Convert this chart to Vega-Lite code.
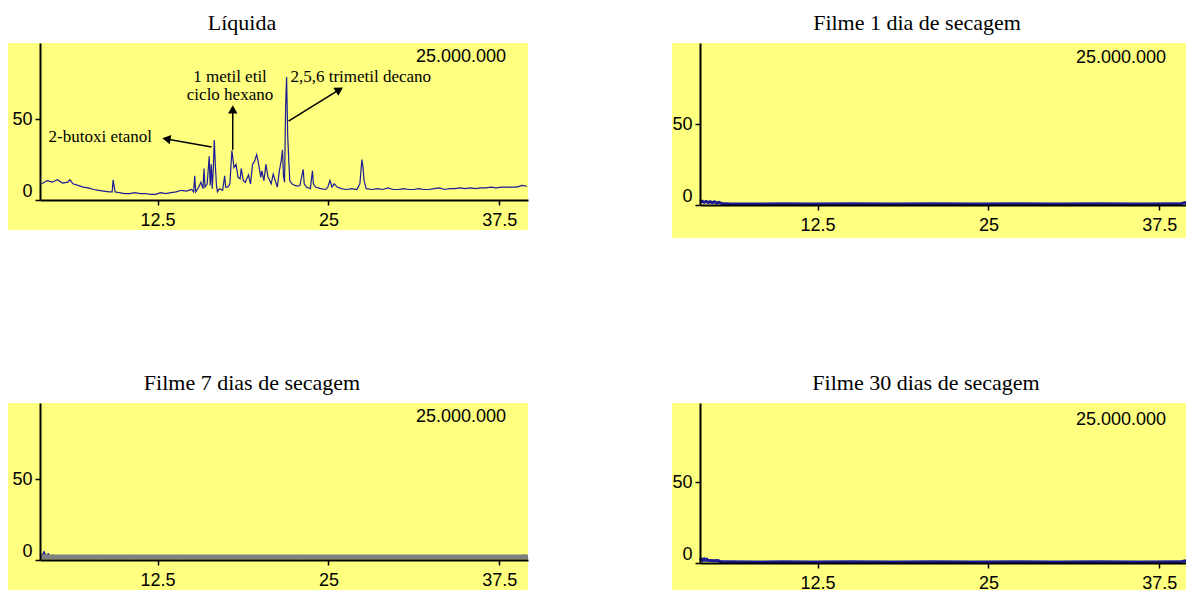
{
  "$schema": "https://vega.github.io/schema/vega-lite/v6.json",
  "background": "white",
  "padding": {"left": 8, "top": 12, "right": 0, "bottom": 0},
  "columns": 2,
  "spacing": {"row": 133, "column": 133},
  "config": {
    "view": {"stroke": null},
    "font": "Liberation Sans",
    "title": {"font": "Liberation Serif", "fontSize": 22, "fontWeight": "normal", "color": "black", "anchor": "middle", "frame": "group", "baseline": "alphabetic", "offset": 8},
    "axis": {"grid": false, "domainColor": "black", "domainWidth": 2, "tickColor": "black", "tickWidth": 1.5, "tickSize": 5, "labelFont": "Liberation Sans", "labelFontSize": 18, "labelColor": "black", "labelPadding": 3, "labelOverlap": false, "zindex": 1},
    "axisX": {"labelPadding": 6}
  },
  "datasets": {
    "one": [{}],
    "liquida": [
      {"t":4.04,"a":10},{"t":4.42,"a":12},{"t":4.80,"a":11},{"t":5.17,"a":12.5},{"t":5.55,"a":10.5},{"t":5.93,"a":11},{"t":6.08,"a":12.5},{"t":6.31,"a":10},{"t":6.68,"a":9},{"t":7.06,"a":8},{"t":7.44,"a":7.5},{"t":7.82,"a":6.5},{"t":8.19,"a":6},{"t":8.57,"a":5.5},{"t":8.95,"a":5},{"t":9.18,"a":5},{"t":9.25,"a":12.5},{"t":9.33,"a":8},{"t":9.40,"a":5},{"t":9.71,"a":4.5},{"t":10.08,"a":4},{"t":10.46,"a":4},{"t":10.84,"a":4.5},{"t":11.22,"a":4},{"t":11.59,"a":4},{"t":11.97,"a":3.5},{"t":12.35,"a":3.5},{"t":12.73,"a":4.5},{"t":13.10,"a":4},{"t":13.48,"a":4.5},{"t":13.86,"a":5},{"t":14.24,"a":6},{"t":14.61,"a":5.5},{"t":14.99,"a":6.5},{"t":15.14,"a":5},{"t":15.22,"a":15},{"t":15.29,"a":5},{"t":15.52,"a":8},{"t":15.67,"a":11},{"t":15.82,"a":7},{"t":15.90,"a":19.5},{"t":15.97,"a":8},{"t":16.13,"a":10},{"t":16.28,"a":27},{"t":16.35,"a":9},{"t":16.43,"a":22},{"t":16.50,"a":7},{"t":16.58,"a":20},{"t":16.65,"a":37},{"t":16.73,"a":21},{"t":16.81,"a":9},{"t":16.88,"a":5},{"t":17.03,"a":7},{"t":17.26,"a":6},{"t":17.41,"a":15},{"t":17.48,"a":8},{"t":17.64,"a":8},{"t":17.79,"a":10},{"t":17.94,"a":30.5},{"t":18.09,"a":20},{"t":18.24,"a":22},{"t":18.39,"a":14},{"t":18.54,"a":13},{"t":18.62,"a":19.5},{"t":18.77,"a":12},{"t":18.92,"a":11},{"t":19.15,"a":15.5},{"t":19.30,"a":10},{"t":19.45,"a":22},{"t":19.60,"a":24},{"t":19.75,"a":28},{"t":19.90,"a":22},{"t":20.05,"a":14},{"t":20.13,"a":18},{"t":20.28,"a":12},{"t":20.43,"a":22},{"t":20.58,"a":14},{"t":20.66,"a":13},{"t":20.81,"a":10},{"t":20.96,"a":16},{"t":21.11,"a":12},{"t":21.26,"a":8},{"t":21.41,"a":18},{"t":21.56,"a":25},{"t":21.64,"a":31},{"t":21.71,"a":15},{"t":21.79,"a":11},{"t":21.87,"a":58},{"t":21.94,"a":76},{"t":22.02,"a":40},{"t":22.09,"a":26},{"t":22.17,"a":12},{"t":22.32,"a":10},{"t":22.55,"a":9},{"t":22.77,"a":8.5},{"t":22.92,"a":9},{"t":23.15,"a":19},{"t":23.23,"a":10},{"t":23.38,"a":8},{"t":23.68,"a":7},{"t":23.83,"a":18},{"t":23.90,"a":10},{"t":24.06,"a":8},{"t":24.43,"a":7},{"t":24.81,"a":6.5},{"t":24.96,"a":8},{"t":25.11,"a":12},{"t":25.26,"a":8},{"t":25.42,"a":10},{"t":25.64,"a":8},{"t":25.94,"a":7},{"t":26.32,"a":6.5},{"t":26.70,"a":7},{"t":27.08,"a":6.5},{"t":27.30,"a":10},{"t":27.45,"a":25},{"t":27.53,"a":20},{"t":27.61,"a":12},{"t":27.76,"a":7},{"t":28.21,"a":6.5},{"t":28.60,"a":7},{"t":28.97,"a":6.5},{"t":29.35,"a":7.5},{"t":29.72,"a":6.5},{"t":30.10,"a":6.5},{"t":30.48,"a":7},{"t":30.86,"a":6.5},{"t":31.23,"a":6.5},{"t":31.61,"a":7},{"t":31.99,"a":6.5},{"t":32.36,"a":6.5},{"t":32.74,"a":7},{"t":33.12,"a":7.5},{"t":33.50,"a":6.5},{"t":33.87,"a":7},{"t":34.25,"a":7},{"t":34.63,"a":7.5},{"t":35.01,"a":7},{"t":35.38,"a":7.5},{"t":35.76,"a":7},{"t":36.14,"a":7.5},{"t":36.52,"a":7.5},{"t":36.89,"a":8},{"t":37.27,"a":7.5},{"t":37.65,"a":8},{"t":38.03,"a":8},{"t":38.40,"a":8},{"t":38.78,"a":8},{"t":39.16,"a":9},{"t":39.54,"a":8.5}
    ],
    "d1": [
      {"t":3.9,"a":1.8},{"t":4.05,"a":2.3},{"t":4.2,"a":1.6},{"t":4.35,"a":2.2},{"t":4.5,"a":1.5},{"t":4.65,"a":2.1},{"t":4.8,"a":1.4},{"t":4.95,"a":2.0},{"t":5.1,"a":1.2},{"t":5.3,"a":1.7},{"t":5.5,"a":0.9},{"t":6.0,"a":0.7},{"t":8,"a":0.6},{"t":10,"a":0.7},{"t":12,"a":0.6},{"t":15,"a":0.7},{"t":18,"a":0.6},{"t":21,"a":0.7},{"t":24,"a":0.6},{"t":27,"a":0.7},{"t":30,"a":0.6},{"t":33,"a":0.7},{"t":36,"a":0.6},{"t":39,"a":0.7},{"t":39.4,"a":1.5},{"t":39.6,"a":0.7}
    ],
    "d7": [
      {"s":"tic","t":3.9,"a":4},{"s":"tic","t":4.05,"a":2.5},{"s":"tic","t":4.2,"a":5},{"s":"tic","t":4.35,"a":2},{"s":"tic","t":4.5,"a":3.8},{"s":"tic","t":4.65,"a":1.8},{"s":"tic","t":4.8,"a":3},{"s":"tic","t":5.0,"a":1.5},{"s":"tic","t":5.3,"a":1.5},{"s":"tic","t":8.0,"a":1.4},{"s":"tic","t":8.1,"a":2.6},{"s":"tic","t":8.2,"a":1.4},{"s":"tic","t":10.5,"a":1.4},{"s":"tic","t":10.6,"a":2.6},{"s":"tic","t":10.7,"a":1.4},{"s":"tic","t":12.0,"a":1.4},{"s":"tic","t":12.1,"a":2.5},{"s":"tic","t":12.2,"a":1.4},{"s":"tic","t":14.3,"a":1.4},{"s":"tic","t":14.4,"a":2.6},{"s":"tic","t":14.5,"a":1.4},{"s":"tic","t":16.4,"a":1.4},{"s":"tic","t":16.5,"a":2.6},{"s":"tic","t":16.8,"a":2.6},{"s":"tic","t":16.9,"a":1.4},{"s":"tic","t":19.0,"a":1.4},{"s":"tic","t":19.1,"a":2.6},{"s":"tic","t":19.6,"a":2.6},{"s":"tic","t":19.7,"a":1.4},{"s":"tic","t":21.5,"a":1.4},{"s":"tic","t":21.6,"a":2.5},{"s":"tic","t":21.7,"a":1.4},{"s":"tic","t":23.0,"a":1.4},{"s":"tic","t":23.1,"a":2.6},{"s":"tic","t":23.2,"a":1.4},{"s":"tic","t":28.3,"a":1.4},{"s":"tic","t":28.4,"a":2.5},{"s":"tic","t":28.5,"a":1.4},{"s":"tic","t":39.2,"a":1.4},{"s":"tic","t":39.3,"a":3},{"s":"tic","t":39.45,"a":2},{"s":"tic","t":39.6,"a":1.4},
      {"s":"base","t":3.9,"a":1.8},{"s":"base","t":10,"a":1.8},{"s":"base","t":20,"a":1.8},{"s":"base","t":30,"a":1.8},{"s":"base","t":39.6,"a":1.8}
    ],
    "d30": [
      {"t":3.9,"a":1.5},{"t":4.0,"a":2.4},{"t":4.1,"a":1.6},{"t":4.2,"a":2.5},{"t":4.3,"a":1.7},{"t":4.4,"a":2.3},{"t":4.5,"a":1.5},{"t":4.7,"a":1.6},{"t":4.9,"a":1.4},{"t":5.2,"a":1.5},{"t":5.4,"a":0.8},{"t":6.0,"a":0.7},{"t":8,"a":0.6},{"t":10,"a":0.7},{"t":12,"a":0.6},{"t":15,"a":0.7},{"t":18,"a":0.6},{"t":21,"a":0.7},{"t":24,"a":0.6},{"t":27,"a":0.7},{"t":30,"a":0.6},{"t":33,"a":0.7},{"t":36,"a":0.6},{"t":39,"a":0.7},{"t":39.4,"a":1.4},{"t":39.6,"a":0.7}
    ]
  },
  "concat": [
    {
      "title": {"text": "Líquida", "dx": -42},
      "width": 488,
      "height": 157,
      "layer": [
        {
          "data": {"name": "one"},
          "mark": {"type": "rect", "color": "#FFFF80"},
          "encoding": {
            "x": {"datum": 1.56, "type": "quantitative", "scale": {"domain": [3.9, 39.6], "nice": false, "zero": false}, "axis": {"title": null, "zindex": 1, "values": [12.5, 25, 37.5], "labelExpr": "'' + datum.value"}},
            "x2": {"datum": 39.6},
            "y": {"datum": -18.5, "type": "quantitative", "scale": {"domain": [0, 97], "nice": false, "zero": false}, "axis": {"title": null, "zindex": 1, "values": [0, 50], "labelBaseline": {"condition": {"test": "datum.value === 0", "value": "bottom"}, "value": "middle"}}},
            "y2": {"datum": 97}
          }
        },
        {
          "data": {"name": "liquida"},
          "mark": {"type": "line", "color": "#1c1c96", "strokeWidth": 1.2},
          "encoding": {
            "x": {"field": "t", "type": "quantitative", "scale": {"domain": [3.9, 39.6], "nice": false, "zero": false}},
            "y": {"field": "a", "type": "quantitative", "scale": {"domain": [0, 97], "nice": false, "zero": false}}
          }
        },
        {
          "data": {"name": "one"},
          "mark": {"type": "text", "font": "Liberation Sans", "fontSize": 18, "align": "right", "baseline": "middle", "color": "black"},
          "encoding": {"x": {"datum": 38.0, "type": "quantitative"}, "y": {"datum": 88.5, "type": "quantitative"}, "text": {"value": "25.000.000"}}
        },
        {
          "data": {"name": "one"},
          "mark": {"type": "text", "font": "Liberation Serif", "fontSize": 17, "align": "left", "baseline": "middle", "color": "black"},
          "encoding": {"x": {"datum": 22.22, "type": "quantitative"}, "y": {"datum": 75.9, "type": "quantitative"}, "text": {"value": "2,5,6 trimetil decano"}}
        },
        {
          "data": {"name": "one"},
          "mark": {"type": "text", "font": "Liberation Serif", "fontSize": 17, "align": "center", "baseline": "middle", "color": "black"},
          "encoding": {"x": {"datum": 17.8, "type": "quantitative"}, "y": {"datum": 75.9, "type": "quantitative"}, "text": {"value": "1 metil etil"}}
        },
        {
          "data": {"name": "one"},
          "mark": {"type": "text", "font": "Liberation Serif", "fontSize": 17, "align": "center", "baseline": "middle", "color": "black"},
          "encoding": {"x": {"datum": 17.8, "type": "quantitative"}, "y": {"datum": 64.8, "type": "quantitative"}, "text": {"value": "ciclo hexano"}}
        },
        {
          "data": {"name": "one"},
          "mark": {"type": "text", "font": "Liberation Serif", "fontSize": 17, "align": "left", "baseline": "middle", "color": "black"},
          "encoding": {"x": {"datum": 4.53, "type": "quantitative"}, "y": {"datum": 38.9, "type": "quantitative"}, "text": {"value": "2-butoxi etanol"}}
        },
        {
          "data": {"name": "one"},
          "mark": {"type": "rule", "color": "black", "strokeWidth": 1.5},
          "encoding": {"x": {"datum": 18.0, "type": "quantitative"}, "y": {"datum": 31, "type": "quantitative"}, "x2": {"datum": 18.0}, "y2": {"datum": 56}}
        },
        {
          "data": {"name": "one"},
          "mark": {"type": "rule", "color": "black", "strokeWidth": 1.5},
          "encoding": {"x": {"datum": 22.08, "type": "quantitative"}, "y": {"datum": 48.8, "type": "quantitative"}, "x2": {"datum": 25.8}, "y2": {"datum": 68.2}}
        },
        {
          "data": {"name": "one"},
          "mark": {"type": "rule", "color": "black", "strokeWidth": 1.5},
          "encoding": {"x": {"datum": 16.45, "type": "quantitative"}, "y": {"datum": 32.7, "type": "quantitative"}, "x2": {"datum": 13.15}, "y2": {"datum": 37.7}}
        },
        {
          "data": {"name": "one"},
          "mark": {"type": "point", "shape": "triangle-up", "filled": true, "color": "black", "opacity": 1, "size": 90, "angle": 0},
          "encoding": {"x": {"datum": 18.0, "type": "quantitative"}, "y": {"datum": 56, "type": "quantitative"}}
        },
        {
          "data": {"name": "one"},
          "mark": {"type": "point", "shape": "triangle-up", "filled": true, "color": "black", "opacity": 1, "size": 90, "angle": 58},
          "encoding": {"x": {"datum": 25.8, "type": "quantitative"}, "y": {"datum": 68.2, "type": "quantitative"}}
        },
        {
          "data": {"name": "one"},
          "mark": {"type": "point", "shape": "triangle-up", "filled": true, "color": "black", "opacity": 1, "size": 90, "angle": 280},
          "encoding": {"x": {"datum": 13.15, "type": "quantitative"}, "y": {"datum": 37.7, "type": "quantitative"}}
        }
      ]
    },
    {
      "title": {"text": "Filme 1 dia de secagem", "dx": -27},
      "width": 488,
      "height": 162,
      "layer": [
        {
          "data": {"name": "one"},
          "mark": {"type": "rect", "color": "#FFFF80"},
          "encoding": {
            "x": {"datum": 1.85, "type": "quantitative", "scale": {"domain": [3.9, 39.6], "nice": false, "zero": false}, "axis": {"title": null, "zindex": 1, "values": [12.5, 25, 37.5], "labelExpr": "'' + datum.value"}},
            "x2": {"datum": 39.6},
            "y": {"datum": -20.4, "type": "quantitative", "scale": {"domain": [0, 100], "nice": false, "zero": false}, "axis": {"title": null, "zindex": 1, "values": [0, 50], "labelBaseline": {"condition": {"test": "datum.value === 0", "value": "bottom"}, "value": "middle"}}},
            "y2": {"datum": 100}
          }
        },
        {
          "data": {"name": "d1"},
          "mark": {"type": "line", "color": "#1c1c96", "strokeWidth": 3},
          "encoding": {
            "x": {"field": "t", "type": "quantitative", "scale": {"domain": [3.9, 39.6], "nice": false, "zero": false}},
            "y": {"field": "a", "type": "quantitative", "scale": {"domain": [0, 100], "nice": false, "zero": false}}
          }
        },
        {
          "data": {"name": "one"},
          "mark": {"type": "text", "font": "Liberation Sans", "fontSize": 18, "align": "right", "baseline": "middle", "color": "black"},
          "encoding": {"x": {"datum": 38.0, "type": "quantitative"}, "y": {"datum": 90.5, "type": "quantitative"}, "text": {"value": "25.000.000"}}
        }
      ]
    },
    {
      "title": {"text": "Filme 7 dias de secagem", "dx": -32},
      "width": 488,
      "height": 157,
      "layer": [
        {
          "data": {"name": "one"},
          "mark": {"type": "rect", "color": "#FFFF80"},
          "encoding": {
            "x": {"datum": 1.56, "type": "quantitative", "scale": {"domain": [3.9, 39.6], "nice": false, "zero": false}, "axis": {"title": null, "zindex": 1, "values": [12.5, 25, 37.5], "labelExpr": "'' + datum.value"}},
            "x2": {"datum": 39.6},
            "y": {"datum": -18.5, "type": "quantitative", "scale": {"domain": [0, 97], "nice": false, "zero": false}, "axis": {"title": null, "zindex": 1, "values": [0, 50], "labelBaseline": {"condition": {"test": "datum.value === 0", "value": "bottom"}, "value": "middle"}}},
            "y2": {"datum": 97}
          }
        },
        {
          "data": {"name": "d7"},
          "transform": [{"filter": "datum.s === 'tic'"}],
          "mark": {"type": "line", "color": "#1c1c96", "strokeWidth": 1.5},
          "encoding": {
            "x": {"field": "t", "type": "quantitative", "scale": {"domain": [3.9, 39.6], "nice": false, "zero": false}},
            "y": {"field": "a", "type": "quantitative", "scale": {"domain": [0, 97], "nice": false, "zero": false}}
          }
        },
        {
          "data": {"name": "d7"},
          "transform": [{"filter": "datum.s === 'base'"}],
          "mark": {"type": "line", "color": "#808080", "strokeWidth": 5},
          "encoding": {
            "x": {"field": "t", "type": "quantitative"},
            "y": {"field": "a", "type": "quantitative"}
          }
        },
        {
          "data": {"name": "one"},
          "mark": {"type": "text", "font": "Liberation Sans", "fontSize": 18, "align": "right", "baseline": "middle", "color": "black"},
          "encoding": {"x": {"datum": 38.0, "type": "quantitative"}, "y": {"datum": 88.5, "type": "quantitative"}, "text": {"value": "25.000.000"}}
        }
      ]
    },
    {
      "title": {"text": "Filme 30 dias de secagem", "dx": -18},
      "width": 488,
      "height": 160,
      "layer": [
        {
          "data": {"name": "one"},
          "mark": {"type": "rect", "color": "#FFFF80"},
          "encoding": {
            "x": {"datum": 1.85, "type": "quantitative", "scale": {"domain": [3.9, 39.6], "nice": false, "zero": false}, "axis": {"title": null, "zindex": 1, "values": [12.5, 25, 37.5], "labelExpr": "'' + datum.value"}},
            "x2": {"datum": 39.6},
            "y": {"datum": -18.5, "type": "quantitative", "scale": {"domain": [0, 98.8], "nice": false, "zero": false}, "axis": {"title": null, "zindex": 1, "values": [0, 50], "labelBaseline": {"condition": {"test": "datum.value === 0", "value": "bottom"}, "value": "middle"}}},
            "y2": {"datum": 98.8}
          }
        },
        {
          "data": {"name": "d30"},
          "mark": {"type": "line", "color": "#1c1c96", "strokeWidth": 3},
          "encoding": {
            "x": {"field": "t", "type": "quantitative", "scale": {"domain": [3.9, 39.6], "nice": false, "zero": false}},
            "y": {"field": "a", "type": "quantitative", "scale": {"domain": [0, 98.8], "nice": false, "zero": false}}
          }
        },
        {
          "data": {"name": "one"},
          "mark": {"type": "text", "font": "Liberation Sans", "fontSize": 18, "align": "right", "baseline": "middle", "color": "black"},
          "encoding": {"x": {"datum": 38.0, "type": "quantitative"}, "y": {"datum": 88.5, "type": "quantitative"}, "text": {"value": "25.000.000"}}
        }
      ]
    }
  ]
}
